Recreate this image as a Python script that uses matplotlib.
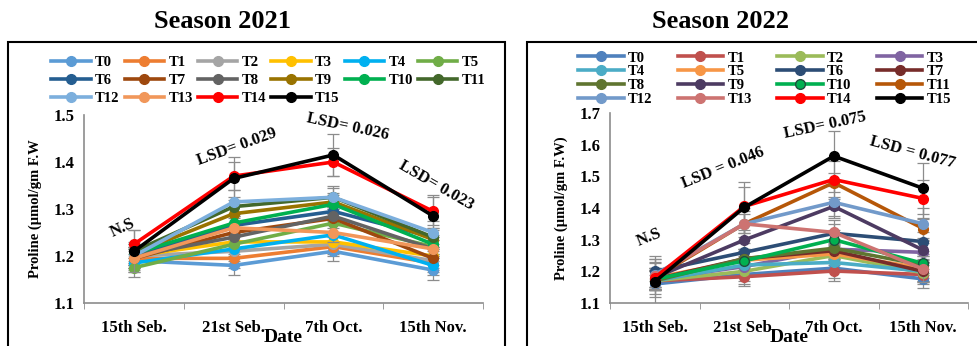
import numpy as np
import matplotlib.pyplot as plt
from matplotlib.patches import Rectangle

plt.rcParams['font.family'] = ['Liberation Serif', 'DejaVu Serif']
plt.rcParams['font.weight'] = 'bold'
plt.rcParams['axes.labelweight'] = 'bold'

dates = ["15th Seb.", "21st Seb.", "7th Oct.", "15th Nov."]
treatments = ["T%d" % i for i in range(16)]

# Season 2021 values (T0..T15)
s2021 = [
    [1.19, 1.18, 1.21, 1.17],
    [1.195, 1.195, 1.22, 1.185],
    [1.20, 1.21, 1.225, 1.19],
    [1.20, 1.23, 1.23, 1.20],
    [1.185, 1.215, 1.245, 1.18],
    [1.175, 1.225, 1.27, 1.22],
    [1.20, 1.265, 1.295, 1.24],
    [1.195, 1.25, 1.28, 1.195],
    [1.20, 1.24, 1.285, 1.215],
    [1.205, 1.29, 1.315, 1.235],
    [1.205, 1.27, 1.31, 1.225],
    [1.21, 1.305, 1.325, 1.24],
    [1.20, 1.315, 1.325, 1.25],
    [1.195, 1.26, 1.25, 1.215],
    [1.225, 1.37, 1.40, 1.295],
    [1.21, 1.365, 1.415, 1.285],
]
err2021 = [0.02] * 12 + [0.025, 0.02, 0.03, 0.045]

# Season 2022 values (T0..T15)
s2022 = [
    [1.16, 1.19, 1.21, 1.176],
    [1.17, 1.183, 1.201, 1.19],
    [1.17, 1.20, 1.25, 1.195],
    [1.175, 1.215, 1.27, 1.26],
    [1.17, 1.22, 1.228, 1.20],
    [1.18, 1.235, 1.255, 1.21],
    [1.20, 1.26, 1.32, 1.294],
    [1.175, 1.24, 1.265, 1.20],
    [1.17, 1.24, 1.273, 1.22],
    [1.18, 1.299, 1.405, 1.267],
    [1.175, 1.233, 1.30, 1.225],
    [1.18, 1.35, 1.48, 1.335],
    [1.19, 1.35, 1.418, 1.35],
    [1.185, 1.35, 1.323, 1.207],
    [1.18, 1.405, 1.49, 1.43],
    [1.167, 1.402, 1.564, 1.462],
]
err2022 = [0.03] * 12 + [0.05, 0.04, 0.06, 0.08]

colors2021 = ["#5B9BD5", "#ED7D31", "#A5A5A5", "#FFC000", "#00B0F0", "#70AD47",
              "#255E91", "#9E480E", "#636363", "#997300", "#00B050", "#43682B",
              "#7CAFDD", "#F1975A", "#FF0000", "#000000"]
colors2022 = ["#4F81BD", "#C0504D", "#9BBB59", "#8064A2", "#4BACC6", "#F79646",
              "#2C4D75", "#772C2A", "#5F7530", "#4D3B62", "#00B050", "#B65708",
              "#729ACA", "#CD7371", "#FF0000", "#000000"]

fig = plt.figure(figsize=(9.77, 3.46), dpi=100)

# panel frames
fig.patches.append(Rectangle((8 / 977, -0.1), 497 / 977, 1.1 - 42 / 346,
                             transform=fig.transFigure, fill=False, lw=1.5, ec="black"))
fig.patches.append(Rectangle((527 / 977, -0.1), 460 / 977, 1.1 - 42 / 346,
                             transform=fig.transFigure, fill=False, lw=1.5, ec="black"))

fig.text(222 / 977, 1 - 22 / 346, "Season 2021", ha="center", va="center", fontsize=19)
fig.text(720 / 977, 1 - 22 / 346, "Season 2022", ha="center", va="center", fontsize=19)


def panel(rect, data, errs, colors, ylim, yticks, ylabel):
    ax = fig.add_axes(rect)
    x = np.arange(len(dates))
    for i, vals in enumerate(data):
        mec = "#1F4E3D" if colors is colors2022 and i == 10 else colors[i]
        ax.errorbar(x, vals, yerr=errs[i], color=colors[i], lw=2.6, marker="o",
                    ms=7, mec=mec, ecolor="#8C8C8C", elinewidth=0.9, capsize=4,
                    capthick=0.9, label=treatments[i], zorder=2 + i * 0.01)
    ax.set_xlim(-0.5, 3.5)
    ax.set_ylim(*ylim)
    ax.set_yticks(yticks)
    ax.set_yticklabels(["%.1f" % v for v in yticks])
    ax.set_xticks(x)
    ax.set_xticklabels(dates)
    ax.set_xticks(np.arange(-0.5, 4, 1), minor=True)
    ax.tick_params(axis="x", which="major", length=0, labelsize=12, pad=12)
    ax.tick_params(axis="x", which="minor", length=4, color="#8C8C8C", direction="out")
    ax.tick_params(axis="y", length=0, labelsize=12, pad=7)
    for s in ["top", "right"]:
        ax.spines[s].set_visible(False)
    for s in ["left", "bottom"]:
        ax.spines[s].set_color("#8C8C8C")
        ax.spines[s].set_linewidth(1.2)
    ax.set_ylabel(ylabel, fontsize=10.5, labelpad=8)
    ax.set_xlabel("Date", fontsize=14, labelpad=-5)
    return ax


ax1 = panel([84 / 977, 1 - 303 / 346, 399 / 977, 188 / 346], s2021, err2021, colors2021,
            (1.1, 1.5), [1.1, 1.2, 1.3, 1.4, 1.5], "Proline (\u00b5mol/gm F.W")
ax2 = panel([610 / 977, 1 - 303 / 346, 358 / 977, 190 / 346], s2022, err2022, colors2022,
            (1.1, 1.7), [1.1, 1.2, 1.3, 1.4, 1.5, 1.6, 1.7], "Proline (\u00b5mol/gm F.W)")


def row_major(handles, labels, ncol):
    # matplotlib fills legend columns first; reorder so items read across rows
    n = len(labels)
    order = [r * ncol + c for c in range(ncol) for r in range((n + ncol - 1) // ncol)
             if r * ncol + c < n]
    return [handles[k] for k in order], [labels[k] for k in order]


h1, l1 = ax1.get_legend_handles_labels()
h1, l1 = row_major([h[0] for h in h1], l1, 6)
fig.legend(h1, l1, ncol=6, loc="upper left", bbox_to_anchor=(44 / 977, 1 - 49 / 346),
           frameon=False, fontsize=10.5, handlelength=2.7, handletextpad=0.3,
           columnspacing=0.35, labelspacing=0.3, borderpad=0)

h2, l2 = ax2.get_legend_handles_labels()
h2, l2 = row_major([h[0] for h in h2], l2, 4)
fig.legend(h2, l2, ncol=4, loc="upper left", bbox_to_anchor=(571 / 977, 1 - 44 / 346),
           frameon=False, fontsize=10.5, handlelength=3.1, handletextpad=0.3,
           columnspacing=1.75, labelspacing=0.05, borderpad=0)

# LSD annotations
lsd1 = [(-0.11, 1.26, "N.S", 25), (1.03, 1.432, "LSD= 0.029", 20),
        (2.14, 1.474, "LSD= 0.026", -12), (3.03, 1.351, "LSD= 0.023", -30)]
for xx, yy, t, r in lsd1:
    ax1.text(xx, yy, t, rotation=r, ha="center", va="center", fontsize=12,
             rotation_mode="anchor")
lsd2 = [(-0.06, 1.308, "N.S", 22), (0.76, 1.526, "LSD = 0.046", 22),
        (1.9, 1.662, "LSD= 0.075", 12), (2.88, 1.574, "LSD = 0.077", -15)]
for xx, yy, t, r in lsd2:
    ax2.text(xx, yy, t, rotation=r, ha="center", va="center", fontsize=12,
             rotation_mode="anchor", clip_on=False)

fig.savefig("out.png", dpi=100)
